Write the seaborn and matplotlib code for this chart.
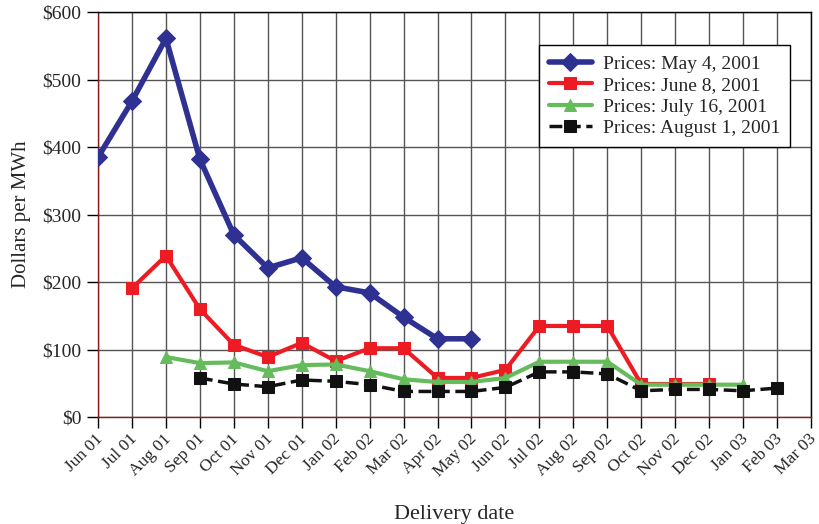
import numpy as np
import pandas as pd
import matplotlib
matplotlib.use("Agg")
import matplotlib.pyplot as plt
import matplotlib.transforms as mtransforms
import seaborn as sns

# delivery months (x axis)
months = ["Jun 01", "Jul 01", "Aug 01", "Sep 01", "Oct 01", "Nov 01", "Dec 01",
          "Jan 02", "Feb 02", "Mar 02", "Apr 02", "May 02", "Jun 02", "Jul 02",
          "Aug 02", "Sep 02", "Oct 02", "Nov 02", "Dec 02", "Jan 03", "Feb 03", "Mar 03"]

# forward prices ($/MWh), each curve starts at a later month
may4 = [385, 468, 561, 382, 270, 221, 236, 193, 184, 148, 116, 116]
june8 = [191, 239, 160, 107, 89, 110, 83, 102, 102, 58, 58, 70, 135, 135, 135, 49, 49, 49]
july16 = [89, 80, 81, 68, 77, 78, 68, 56, 52, 52, 58, 82, 82, 82, 48, 48, 48, 48]
aug1 = [58, 49, 45, 55, 53, 48, 38, 38, 38, 44, 67, 67, 64, 39, 41, 41, 39, 43]

series = [
    ("Prices: May 4, 2001", 0, may4, "#2e3192", "D", "-", 9, 4),
    ("Prices: June 8, 2001", 1, june8, "#ed1c24", "s", "-", 9, 3),
    ("Prices: July 16, 2001", 2, july16, "#66bb5c", "^", "-", 9, 3),
    ("Prices: August 1, 2001", 3, aug1, "#111111", "s", "--", 8, 2.5),
]

sns.set_style("white")
plt.rcParams["font.family"] = ["Liberation Serif", "DejaVu Serif"]

fig = plt.figure(figsize=(8.19, 5.24), dpi=100)
ax = fig.add_axes([0.1197, 0.204, 0.8705, 0.773])

for name, start, vals, col, mk, ls, ms, lw in series:
    df = pd.DataFrame({"x": np.arange(start, start + len(vals)), "y": vals})
    sns.lineplot(data=df, x="x", y="y", ax=ax, color=col, marker=mk, markersize=ms,
                 markeredgecolor=col, linewidth=lw, linestyle=ls, label=name,
                 dashes=False if ls == "-" else (4, 3), zorder=3)

ax.set_xlim(0, len(months) - 1)
ax.set_ylim(0, 600)
ax.set_xticks(range(len(months)))
ax.set_xticklabels(months, rotation=45, ha="right", rotation_mode="anchor", fontsize=12.5)
ax.set_yticks(range(0, 601, 100))
ax.set_yticklabels(["$%d" % v for v in range(0, 601, 100)], fontsize=14)
ax.tick_params(axis="both", direction="out", length=8, width=1, color="black",
               bottom=True, left=True, pad=4)
ax.tick_params(axis="x", pad=2)
# nudge the slanted month labels a little left so the last one stays inside
shift = mtransforms.ScaledTranslation(-3 / 100, 0, fig.dpi_scale_trans)
for lab in ax.get_xticklabels():
    lab.set_transform(lab.get_transform() + shift)
ax.grid(True, color="#555555", linewidth=1)
ax.set_axisbelow(True)
for s in ax.spines.values():
    s.set_color("black")
    s.set_linewidth(1)
ax.spines["bottom"].set_color("#8b1a1a")
ax.spines["left"].set_color("#8b1a1a")

ax.set_xlabel("Delivery date", fontsize=16, labelpad=18)
ax.set_ylabel("Dollars per MWh", fontsize=15, labelpad=8)

leg = ax.legend(loc="upper right", bbox_to_anchor=(0.971, 0.918), fontsize=14,
                frameon=True, fancybox=False, edgecolor="black", framealpha=1,
                handlelength=2.2, handletextpad=0.6, borderpad=0.5, labelspacing=0.2,
                borderaxespad=0)
leg.get_frame().set_linewidth(1)

fig.savefig("out.png", dpi=100)
